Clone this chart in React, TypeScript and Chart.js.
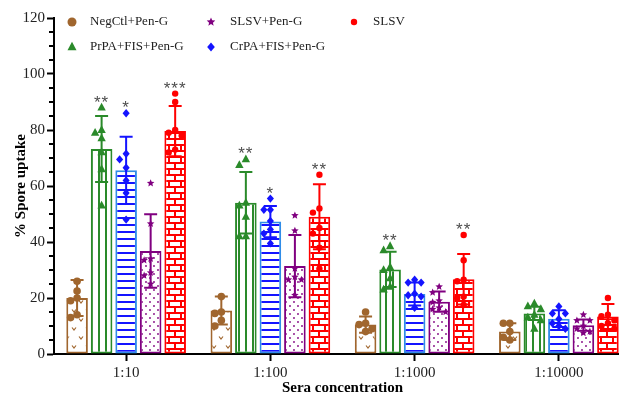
import React, { useEffect, useRef } from 'react';
import { Chart, registerables } from 'chart.js';
Chart.register(...registerables);

const categories = ['1:10', '1:100', '1:1000', '1:10000'];
const seriesNames = ['NegCtl+Pen-G', 'PrPA+FIS+Pen-G', 'CrPA+FIS+Pen-G', 'SLSV+Pen-G', 'SLSV'];

const negCtlMean = [20, 15.5, 10.5, 8];
const prpaMean = [73.2, 54, 30.2, 14.5];
const crpaMean = [65.6, 47.3, 21.4, 12.6];
const slsvPenMean = [36.8, 31.4, 18.7, 10.3];
const slsvMean = [79.6, 49, 26.7, 13.4];

const negCtlSD = [6.4, 5, 2.9, 3];
const prpaSD = [11.8, 11, 6.3, 2.4];
const crpaSD = [12, 5.6, 4.1, 3];
const slsvPenSD = [13.1, 11.1, 3.6, 2];
const slsvSD = [9, 11.6, 9, 4.5];

const negCtlPts = [[26, 22.5, 20, 19, 14, 13], [20.5, 15, 14.5, 12, 10], [15, 11, 10.5, 9, 8], [11, 11, 8, 6, 5]];
const prpaPts = [[88, 80, 79, 77, 72, 66, 53], [69.5, 67.5, 54, 53, 49, 42, 42], [38.5, 37, 31, 30, 27, 24, 23], [18, 17, 16, 14, 13, 12, 9]];
const crpaPts = [[86, 71.5, 69.5, 66.5, 62, 57.5, 48], [55.5, 51.5, 51.5, 47.5, 44.5, 43, 39.5], [26.5, 25.5, 25.5, 21.5, 21, 20.5, 16.5], [17, 14.5, 14.5, 12.5, 11, 10, 9]];
const slsvPenPts = [[61, 46.5, 34, 33.5, 29, 28, 25], [49.5, 44, 30.5, 27.5, 26.5, 26.5, 21], [24, 22, 19, 18.5, 16.5, 16, 15], [14, 12, 12, 10, 9, 8, 7.5]];
const slsvPts = [[93, 90, 80, 79, 78, 73, 72], [64, 52, 50.5, 45, 43, 38, 30.5], [42.5, 33.5, 26.5, 26, 20.5, 20, 17.5], [20, 14, 13.5, 12, 11, 10, 9]];

const negCtlStars = ['', '', '', ''];
const prpaStars = ['**', '**', '**', ''];
const crpaStars = ['*', '*', '', ''];
const slsvPenStars = ['', '', '', ''];
const slsvStars = ['***', '**', '**', ''];

const yMin = 0;
const yMax = 120;
const yStep = 20;
const yMinorStep = 5;

const meanSeries = [negCtlMean, prpaMean, crpaMean, slsvPenMean, slsvMean];
const sdSeries = [negCtlSD, prpaSD, crpaSD, slsvPenSD, slsvSD];
const ptsSeries = [negCtlPts, prpaPts, crpaPts, slsvPenPts, slsvPts];
const starSeries = [negCtlStars, prpaStars, crpaStars, slsvPenStars, slsvStars];

const markColors = ['#A0662E', '#2A8A2A', '#1414FF', '#800080', '#FF0000'];
const borderColors = ['#A0662E', '#2A8A2A', '#2F8CE8', '#800080', '#FF0000'];
const markerShapes = ['circle', 'triangle', 'diamond', 'star', 'dot'];
const legendOrder = [0, 3, 4, 1, 2];

function tile(w: number, h: number, draw: (c: CanvasRenderingContext2D) => void) {
  const cv = document.createElement('canvas');
  cv.width = w;
  cv.height = h;
  const c = cv.getContext('2d')!;
  c.fillStyle = '#ffffff';
  c.fillRect(0, 0, w, h);
  draw(c);
  return c.createPattern(cv, 'repeat')!;
}

function makePatterns() {
  const neg = tile(14, 18, (c) => {
    c.strokeStyle = markColors[0];
    c.lineWidth = 1.2;
    const v = (x: number, y: number) => {
      c.beginPath();
      c.moveTo(x - 2, y - 1.5);
      c.lineTo(x, y + 1);
      c.lineTo(x + 2, y - 1.5);
      c.stroke();
    };
    v(4, 5);
    v(11, 14);
  });
  const prpa = tile(7, 4, (c) => {
    c.fillStyle = markColors[1];
    c.fillRect(0, 0, 2, 4);
  });
  const crpa = tile(4, 7, (c) => {
    c.fillStyle = markColors[2];
    c.fillRect(0, 0, 4, 2);
  });
  const slsvPen = tile(8, 8, (c) => {
    c.fillStyle = markColors[3];
    c.beginPath();
    c.arc(2, 2, 0.9, 0, Math.PI * 2);
    c.arc(6, 6, 0.9, 0, Math.PI * 2);
    c.fill();
  });
  const slsv = tile(12, 12, (c) => {
    c.fillStyle = markColors[4];
    c.fillRect(0, 0, 12, 2);
    c.fillRect(0, 6, 12, 2);
    c.fillRect(0, 0, 2, 6);
    c.fillRect(6, 6, 2, 6);
  });
  return [neg, prpa, crpa, slsvPen, slsv];
}

function drawMarker(ctx: CanvasRenderingContext2D, shape: string, x: number, y: number, color: string, r: number) {
  ctx.fillStyle = color;
  ctx.beginPath();
  if (shape === 'circle' || shape === 'dot') {
    ctx.arc(x, y, r, 0, Math.PI * 2);
  } else if (shape === 'triangle') {
    ctx.moveTo(x, y - r * 1.15);
    ctx.lineTo(x - r, y + r * 0.7);
    ctx.lineTo(x + r, y + r * 0.7);
    ctx.closePath();
  } else if (shape === 'diamond') {
    ctx.moveTo(x, y - r);
    ctx.lineTo(x + r * 0.85, y);
    ctx.lineTo(x, y + r);
    ctx.lineTo(x - r * 0.85, y);
    ctx.closePath();
  } else if (shape === 'star') {
    for (let i = 0; i < 10; i++) {
      const a = -Math.PI / 2 + (i * Math.PI) / 5;
      const rr = i % 2 === 0 ? r : r * 0.45;
      const px = x + rr * Math.cos(a);
      const py = y + rr * Math.sin(a);
      if (i === 0) ctx.moveTo(px, py);
      else ctx.lineTo(px, py);
    }
    ctx.closePath();
  }
  ctx.fill();
}

const markerSize = [3.8, 4.2, 4.2, 4, 3.2];

const overlayPlugin = {
  id: 'overlay',
  beforeDraw(chart: any) {
    const ctx = chart.ctx;
    ctx.save();
    ctx.fillStyle = '#ffffff';
    ctx.fillRect(0, 0, chart.width, chart.height);
    ctx.restore();
  },
  afterDatasetsDraw(chart: any) {
    const ctx: CanvasRenderingContext2D = chart.ctx;
    const ys = chart.scales.y;
    ctx.save();
    for (let s = 0; s < seriesNames.length; s++) {
      const meta = chart.getDatasetMeta(s);
      meta.data.forEach((bar: any, g: number) => {
        const cx = bar.x;
        const m = meanSeries[s][g];
        const sd = sdSeries[s][g];
        const yt = ys.getPixelForValue(m + sd);
        const yb = ys.getPixelForValue(Math.max(m - sd, 0));
        ctx.strokeStyle = markColors[s];
        ctx.lineWidth = 2;
        ctx.beginPath();
        ctx.moveTo(cx, yt);
        ctx.lineTo(cx, yb);
        ctx.moveTo(cx - 6.5, yt);
        ctx.lineTo(cx + 6.5, yt);
        ctx.moveTo(cx - 6.5, yb);
        ctx.lineTo(cx + 6.5, yb);
        ctx.stroke();
        const vals = [...ptsSeries[s][g]].sort((a, b) => b - a);
        const placed: { x: number; y: number }[] = [];
        const d = 6.5;
        const cands = [0, -d, d, -2 * d, 2 * d];
        let topY = yt;
        vals.forEach((v) => {
          const py = ys.getPixelForValue(v);
          let px = cx;
          for (const o of cands) {
            const tx = cx + o;
            const clash = placed.some((p) => Math.abs(p.x - tx) < 6 && Math.abs(p.y - py) < 7);
            if (!clash) {
              px = tx;
              break;
            }
          }
          placed.push({ x: px, y: py });
          drawMarker(ctx, markerShapes[s], px, py, markColors[s], markerSize[s]);
          if (py < topY) topY = py;
        });
        const st = starSeries[s][g];
        if (st) {
          ctx.fillStyle = '#4d4d4d';
          ctx.font = '17px "Liberation Sans"';
          ctx.textAlign = 'center';
          ctx.textBaseline = 'alphabetic';
          (ctx as any).letterSpacing = '1px';
          ctx.fillText(st, cx, topY - 10 + 9.9);
          (ctx as any).letterSpacing = '0px';
        }
      });
    }
    ctx.restore();
  },
  afterDraw(chart: any) {
    const ctx: CanvasRenderingContext2D = chart.ctx;
    const ys = chart.scales.y;
    const left = chart.chartArea.left;
    ctx.save();
    ctx.strokeStyle = '#000';
    ctx.lineWidth = 2;
    ctx.beginPath();
    for (let v = yMin; v <= yMax; v += yMinorStep) {
      if (v % yStep === 0) continue;
      const py = Math.round(ys.getPixelForValue(v));
      ctx.moveTo(left - 5, py);
      ctx.lineTo(left, py);
    }
    ctx.stroke();
    const colMarker = [72, 211, 354];
    const colText = [90, 230, 373];
    const rowY = [22, 47];
    ctx.font = '13px "Liberation Serif"';
    ctx.textBaseline = 'middle';
    ctx.textAlign = 'left';
    legendOrder.forEach((si, k) => {
      const col = k % 3;
      const row = Math.floor(k / 3);
      const sz = si === 4 ? 3.2 : 4.5;
      drawMarker(ctx, markerShapes[si], colMarker[col], rowY[row], markColors[si], sz);
      ctx.fillStyle = '#222';
      ctx.fillText(seriesNames[si], colText[col], rowY[row]);
    });
    ctx.restore();
  },
};

export default function App() {
  const ref = useRef<HTMLCanvasElement | null>(null);
  useEffect(() => {
    document.documentElement.style.overflow = 'hidden';
    document.body.style.overflow = 'hidden';
    const patterns = makePatterns();
    const chart = new Chart(ref.current!, {
      type: 'bar',
      data: {
        labels: categories,
        datasets: seriesNames.map((name, i) => ({
          label: name,
          data: meanSeries[i],
          backgroundColor: patterns[i] as any,
          borderColor: borderColors[i],
          borderWidth: 2,
          borderSkipped: false,
          barPercentage: 0.88,
          categoryPercentage: 0.85,
        })),
      },
      options: {
        responsive: false,
        animation: false,
        devicePixelRatio: 1,
        layout: { padding: { top: 18, left: 0, right: 0, bottom: 0 } },
        plugins: { legend: { display: false }, tooltip: { enabled: false } },
        scales: {
          x: {
            grid: { offset: false, drawOnChartArea: false, drawTicks: true, tickLength: 7, tickWidth: 2, tickColor: '#000' },
            border: { color: '#000', width: 2 },
            ticks: { color: '#222', font: { family: 'Liberation Serif', size: 15 }, padding: 3 },
            title: {
              display: true,
              text: 'Sera concentration',
              color: '#000',
              font: { family: 'Liberation Serif', size: 15, weight: 'bold' },
              padding: { top: 0, bottom: 2 },
            },
            afterFit: (s: any) => {
              s.height = 45;
            },
          },
          y: {
            min: yMin,
            max: yMax,
            ticks: { stepSize: yStep, color: '#222', font: { family: 'Liberation Serif', size: 15 }, padding: 2 },
            grid: { drawOnChartArea: false, drawTicks: true, tickLength: 7, tickWidth: 2, tickColor: '#000' },
            border: { color: '#000', width: 2 },
            title: {
              display: true,
              text: '% Spore uptake',
              color: '#000',
              font: { family: 'Liberation Serif', size: 15, weight: 'bold' },
              padding: { top: 12, bottom: 0 },
            },
            afterFit: (s: any) => {
              s.width = 54;
            },
          },
        },
      },
      plugins: [overlayPlugin],
    });
    return () => chart.destroy();
  }, []);
  return (
    <div style={{ position: 'fixed', left: 0, top: 0, width: 631, height: 399, overflow: 'hidden', background: '#fff' }}>
      <canvas ref={ref} width={631} height={399} style={{ width: 631, height: 399, display: 'block' }} />
    </div>
  );
}
